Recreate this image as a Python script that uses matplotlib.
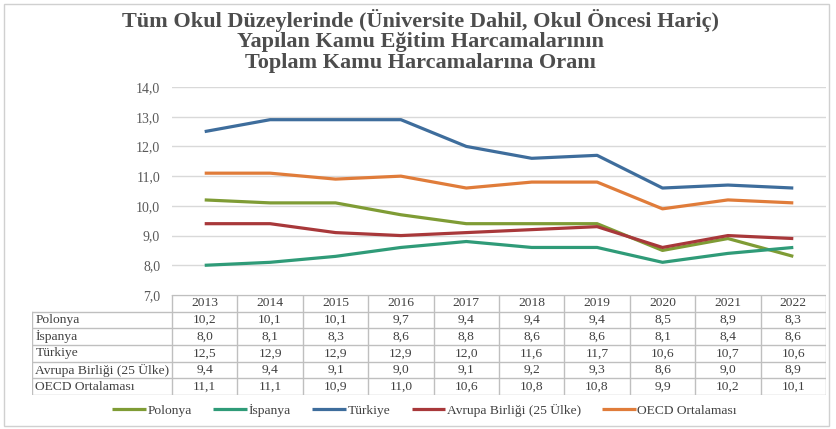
import matplotlib.pyplot as plt
from matplotlib.patches import Rectangle

years = ["2013", "2014", "2015", "2016", "2017", "2018", "2019", "2020", "2021", "2022"]
series_names = ["Polonya", "İspanya", "Türkiye", "Avrupa Birliği (25 Ülke)", "OECD Ortalaması"]
polonya = [10.2, 10.1, 10.1, 9.7, 9.4, 9.4, 9.4, 8.5, 8.9, 8.3]
ispanya = [8.0, 8.1, 8.3, 8.6, 8.8, 8.6, 8.6, 8.1, 8.4, 8.6]
turkiye = [12.5, 12.9, 12.9, 12.9, 12.0, 11.6, 11.7, 10.6, 10.7, 10.6]
avrupa = [9.4, 9.4, 9.1, 9.0, 9.1, 9.2, 9.3, 8.6, 9.0, 8.9]
oecd = [11.1, 11.1, 10.9, 11.0, 10.6, 10.8, 10.8, 9.9, 10.2, 10.1]
colors = ["#7f9c35", "#2f9b78", "#3e6d9c", "#a8383a", "#e07c3a"]

W, H = 836, 429
plt.rcParams['font.family'] = ['Liberation Serif', 'DejaVu Serif']
fig = plt.figure(figsize=(W / 100, H / 100), dpi=100)

def fx(px):
    return px / W

def fy(py):
    return 1 - py / H

# outer frame
fig.patches.append(Rectangle((fx(4), fy(426)), fx(829) - fx(4), fy(4) - fy(426),
                             transform=fig.transFigure, fill=False, edgecolor="#d0d0d0", lw=1))

title_lines = ["Tüm Okul Düzeylerinde (Üniversite Dahil, Okul Öncesi Hariç)",
               "Yapılan Kamu Eğitim Harcamalarının",
               "Toplam Kamu Harcamalarına Oranı"]
for ty, line in zip([20, 42, 63], title_lines):
    fig.text(0.503, fy(ty), line, ha="center", va="center", fontsize=16,
             fontweight="bold", color="#4d4d4d")

col_l, col_r = 172, 826
top14, bot7 = 87, 295
ax = fig.add_axes([fx(col_l), fy(bot7), fx(col_r) - fx(col_l), fy(top14) - fy(bot7)])
x = list(range(len(years)))
data = [polonya, ispanya, turkiye, avrupa, oecd]
for name, vals, c in zip(series_names, data, colors):
    ax.plot(x, vals, color=c, lw=2.3, label=name, solid_capstyle="butt")
ax.set_xlim(-0.5, 9.5)
ax.set_ylim(7, 14)
ax.set_yticks(range(7, 15))
ax.set_yticklabels([f"{v},0" for v in range(7, 15)])
ax.set_xticks([])
ax.tick_params(axis="y", length=0, pad=8.5, labelsize=10, labelcolor="#595959")
ax.grid(axis="y", color="#d9d9d9", lw=1)
ax.set_axisbelow(True)
for s in ax.spines.values():
    s.set_visible(False)

# table
tab_l = 32
colw = (col_r - col_l) / len(years)
label_w = (col_l - tab_l) / colw
tax = fig.add_axes([fx(tab_l), fy(395), fx(col_r) - fx(tab_l), fy(bot7) - fy(395)])
tax.set_xlim(-0.5 - label_w, 9.5)
tax.set_ylim(6, 0)
tax.axis("off")
gc = "#bfbfbf"
tcol = "#404040"
tax.plot([-0.5, 9.5], [0, 0], color=gc, lw=1)
for r in range(1, 7):
    tax.plot([-0.5 - label_w, 9.5], [r, r], color=gc, lw=1)
for c in range(11):
    tax.plot([c - 0.5, c - 0.5], [0, 6], color=gc, lw=1)
tax.plot([-0.5 - label_w, -0.5 - label_w], [1, 6], color=gc, lw=1)
for i, yr in enumerate(years):
    tax.text(i, 0.5, yr, ha="center", va="center", fontsize=9.7, color=tcol)
for r, (name, vals) in enumerate(zip(series_names, data), start=1):
    tax.text(-0.5 - label_w + 0.05, r + 0.5, name, ha="left", va="center", fontsize=9.7, color=tcol)
    for i, v in enumerate(vals):
        tax.text(i, r + 0.5, f"{v:.1f}".replace(".", ","), ha="center", va="center",
                 fontsize=9.7, color=tcol)

handles, labels = ax.get_legend_handles_labels()
fig.legend(handles, labels, loc="center", bbox_to_anchor=(0.508, fy(410)), ncol=5,
           frameon=False, fontsize=9.7, handlelength=2.5, handletextpad=0.1,
           columnspacing=1.6, labelcolor=tcol)

fig.savefig("out.png", dpi=100)
